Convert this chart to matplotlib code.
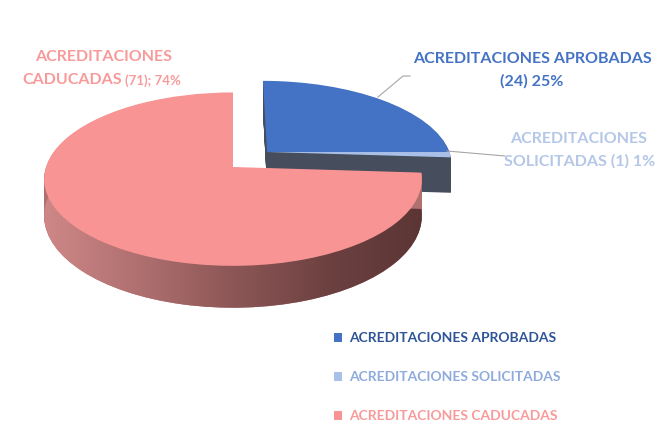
import numpy as np
import matplotlib.pyplot as plt
from matplotlib.transforms import Transform, Affine2D
from matplotlib.colors import LinearSegmentedColormap

plt.rcParams['font.family'] = ['Lato', 'DejaVu Sans']

categorias = ['ACREDITACIONES APROBADAS', 'ACREDITACIONES SOLICITADAS', 'ACREDITACIONES CADUCADAS']
valores = [24, 1, 71]
explode = [0.13, 0.13, 0.13]

color_cara = ['#4472c4', '#a9c1e9', '#f89494']
color_lado = ['#464d5c', '#464d5c', '#b07070']
color_texto = ['#4472c4', '#b4c7e7', '#f99a9a']
color_leyenda = ['#2f5597', '#8faadc', '#f99a9a']

# vista en perspectiva del pastel (px de la imagen)
X0, Y0, R, RY, H, K = 233, 167, 187, 85, 36, 0.14


class Vista(Transform):
    input_dims = 2
    output_dims = 2

    def __init__(self, w=0.0):
        super().__init__()
        self.w = w

    def transform_non_affine(self, values):
        values = np.asarray(values, float)
        pts = values.reshape(-1, 2)
        u, v = pts[:, 0], pts[:, 1]
        s = 1 + K * v
        out = np.column_stack([X0 + R * u / s, Y0 - (RY * v + H * self.w) / s])
        return out.reshape(values.shape)


total = sum(valores)
pct = [round(100 * v / total) for v in valores]
acum = np.cumsum([0] + valores[:-1])
medio = np.deg2rad(90 - 360 * (acum + np.array(valores) / 2) / total)
desp = np.column_stack([np.array(explode) * np.cos(medio), np.array(explode) * np.sin(medio)])
centro = tuple(-desp[2])
# la porcion pequeña queda pegada a la azul, como en Excel
ajuste = desp[0] - desp[1]


def transformar(ws, w, z):
    for i, p in enumerate(ws):
        t = Vista(w) + ax.transData
        if i == 1:
            t = Affine2D().translate(*ajuste) + t
        p.set_transform(t)
        p.set_zorder(z)


fig = plt.figure(figsize=(6.59, 4.32), dpi=100)
ax = fig.add_axes([0, 0, 1, 1])

fondo = None
for w in np.linspace(-1, -0.02, 45):
    ws, _ = ax.pie(valores, explode=explode, startangle=90, counterclock=False,
                   colors=color_lado, center=centro, wedgeprops=dict(linewidth=0))
    transformar(ws, w, 1)
    if fondo is None:
        fondo = ws[2]

grad = np.linspace(0, 1, 256).reshape(1, -1)
cmap = LinearSegmentedColormap.from_list('lado', ['#d08888', '#b07070', '#8c5656', '#6c4040', '#5a3434'])
im = ax.imshow(grad, cmap=cmap, extent=(40, 430, 320, 90), aspect='auto', zorder=1.5)
im.set_clip_path(fondo)

caras, _ = ax.pie(valores, explode=explode, startangle=90, counterclock=False,
                  colors=color_cara, center=centro, wedgeprops=dict(linewidth=0))
transformar(caras, 0, 2)

ax.set_xlim(0, 659)
ax.set_ylim(432, 0)
ax.set_aspect('auto')
ax.axis('off')

# etiquetas
ax.plot([378, 403, 410], [97, 76, 76], color='#a6a6a6', lw=0.8, zorder=3)
ax.plot([447, 505], [151, 156], color='#a6a6a6', lw=0.8, zorder=3)

fs = 11.5
ax.text(532, 59, 'ACREDITACIONES APROBADAS', color=color_texto[0], fontsize=fs,
        fontweight='bold', ha='center', va='center')
ax.text(532, 81, f'({valores[0]}) {pct[0]}%', color=color_texto[0], fontsize=fs,
        fontweight='bold', ha='center', va='center')
ax.text(579, 139, 'ACREDITACIONES', color=color_texto[1], fontsize=fs,
        fontweight='bold', ha='center', va='center')
ax.text(580, 161, f'SOLICITADAS ({valores[1]}) {pct[1]}%', color=color_texto[1], fontsize=fs,
        fontweight='bold', ha='center', va='center')
ax.text(104, 57, 'ACREDITACIONES', color=color_texto[2], fontsize=fs,
        fontweight='bold', ha='center', va='center')
ax.text(122, 80, 'CADUCADAS', color=color_texto[2], fontsize=fs,
        fontweight='bold', ha='right', va='center')
ax.text(125, 81, f'({valores[2]}); {pct[2]}%', color=color_texto[2], fontsize=9.5,
        fontweight='bold', ha='left', va='center')

ax.legend(caras, categorias, loc='upper left', bbox_to_anchor=(334 / 659, 1 - 332 / 432),
          frameon=False, borderpad=0, borderaxespad=0, handlelength=0.6, handleheight=0.6,
          handletextpad=0.5, labelspacing=1.95, labelcolor=color_leyenda,
          prop=dict(size=10, weight='bold'))

fig.savefig('out.png', dpi=100)
